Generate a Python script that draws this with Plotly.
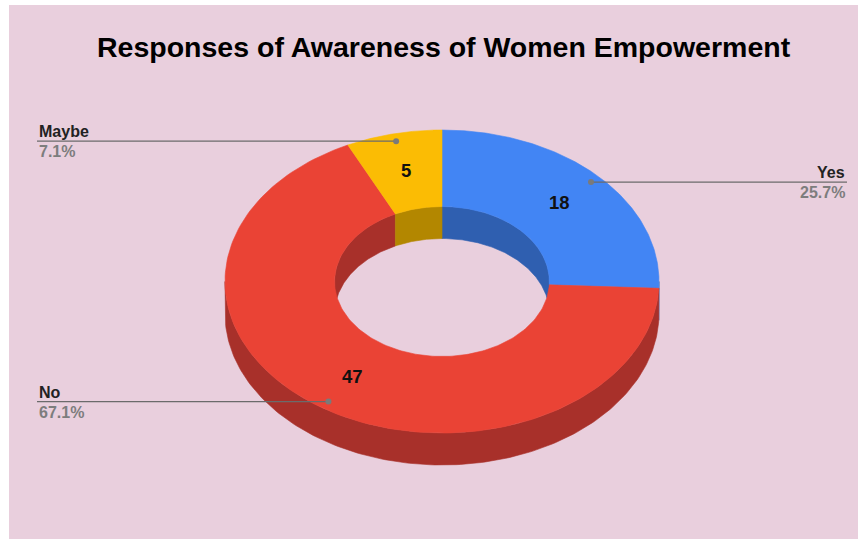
import numpy as np
import plotly.graph_objects as go

# Survey responses
categories = ["Yes", "No", "Maybe"]
counts = [18, 47, 5]
top_colors = ["#4285F4", "#EA4335", "#FBBC04"]
wall_colors = ["#2F5FB0", "#A8302A", "#B38700"]

# Geometry of the tilted ring (pixel space of the figure)
W, H = 863, 539
cx, cy = 442.0, 281.5
rx, ry = 217.0, 151.5
hole = 0.495
depth = 32.0

total = sum(counts)
shares = [c / total for c in counts]
bounds = np.concatenate([[0.0], np.cumsum(shares) * 360.0])


def arc(a0, a1, scale, dy=0.0, n=160):
    t = np.radians(np.linspace(a0, a1, n))
    return cx + rx * scale * np.sin(t), cy - ry * scale * np.cos(t) + dy


def overlap(s, e, lo, hi):
    a, b = max(s, lo), min(e, hi)
    return (a, b) if a < b else None


fig = go.Figure()


def add_poly(xs, ys, color):
    fig.add_trace(go.Scatter(
        x=xs, y=ys, mode="lines", fill="toself", fillcolor=color,
        line=dict(color=color, width=0.6), hoverinfo="skip", showlegend=False,
    ))


# Outer side wall (front half of the ring)
for i in range(len(counts)):
    seg = overlap(bounds[i], bounds[i + 1], 90.0, 270.0)
    if seg:
        x1, y1 = arc(seg[0], seg[1], 1.0)
        x2, y2 = arc(seg[1], seg[0], 1.0, depth)
        add_poly(np.concatenate([x1, x2, x1[:1]]), np.concatenate([y1, y2, y1[:1]]), wall_colors[i])

# Inner wall seen through the hole (back half)
for i in range(len(counts)):
    for lo, hi in ((270.0, 360.0), (0.0, 90.0)):
        seg = overlap(bounds[i], bounds[i + 1], lo, hi)
        if seg:
            x1, y1 = arc(seg[0], seg[1], hole)
            x2, y2 = arc(seg[1], seg[0], hole, depth)
            add_poly(np.concatenate([x1, x2, x1[:1]]), np.concatenate([y1, y2, y1[:1]]), wall_colors[i])

# Top faces of the ring
for i in range(len(counts)):
    x1, y1 = arc(bounds[i], bounds[i + 1], 1.0)
    x2, y2 = arc(bounds[i + 1], bounds[i], hole)
    add_poly(np.concatenate([x1, x2, x1[:1]]), np.concatenate([y1, y2, y1[:1]]), top_colors[i])

# Value labels and callouts
label_side = ["right", "left", "left"]
for i, (name, val, share) in enumerate(zip(categories, counts, shares)):
    mid = np.radians((bounds[i] + bounds[i + 1]) / 2)
    vx = cx + rx * 0.75 * np.sin(mid)
    vy = cy - ry * 0.75 * np.cos(mid)
    fig.add_annotation(x=vx, y=vy, text=f"<b>{val}</b>", showarrow=False,
                       font=dict(family="Arial, Liberation Sans", size=18.5, color="#111111"))

    px = cx + rx * 0.95 * np.sin(mid)
    py = cy - ry * 0.95 * np.cos(mid)
    end_x = 847 if label_side[i] == "right" else 37
    fig.add_trace(go.Scatter(
        x=[end_x, px], y=[py, py], mode="lines",
        line=dict(color="#6b6b6b", width=1.3), hoverinfo="skip", showlegend=False,
    ))
    fig.add_trace(go.Scatter(
        x=[px], y=[py], mode="markers",
        marker=dict(color="#7a7a7a", size=6), hoverinfo="skip", showlegend=False,
    ))
    anchor = "right" if label_side[i] == "right" else "left"
    fig.add_annotation(x=end_x, y=py, text=f"<b>{name}</b>", showarrow=False,
                       xanchor=anchor, yanchor="bottom", yshift=-1,
                       font=dict(family="Arial, Liberation Sans", size=16, color="#222222"))
    fig.add_annotation(x=end_x, y=py, text=f"<b>{share * 100:.1f}%</b>", showarrow=False,
                       xanchor=anchor, yanchor="top", yshift=0,
                       font=dict(family="Arial, Liberation Sans", size=16, color="#7d7d7d"))

fig.add_annotation(x=444, y=47, text="<b>Responses of Awareness of Women Empowerment</b>",
                   showarrow=False,
                   font=dict(family="Arial, Liberation Sans", size=28.5, color="#000000"))

fig.update_layout(
    width=W, height=H,
    margin=dict(l=0, r=0, t=0, b=0),
    paper_bgcolor="#ffffff", plot_bgcolor="#ffffff",
    xaxis=dict(range=[0, W], visible=False, fixedrange=True),
    yaxis=dict(range=[H, 0], visible=False, fixedrange=True),
    shapes=[dict(type="rect", xref="x", yref="y", x0=9, x1=858, y0=5, y1=H,
                 fillcolor="#E9CFDD", line=dict(width=0), layer="below")],
    showlegend=False,
)

fig.write_html("out.html", config={"displayModeBar": False})
